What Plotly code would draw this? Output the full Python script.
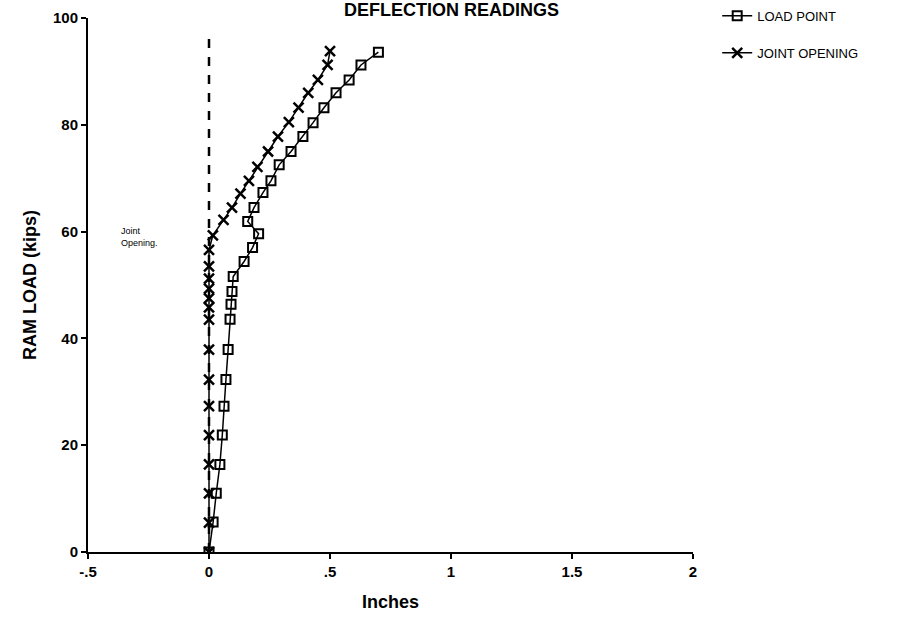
import plotly.graph_objects as go

# Deflection readings: ram load (kips) against displacement (inches)
load_point_in = [0, 0.017, 0.03, 0.045, 0.055, 0.062, 0.07, 0.079, 0.087, 0.091,
                 0.095, 0.10, 0.145, 0.18, 0.205, 0.16, 0.186, 0.223, 0.256, 0.29,
                 0.339, 0.388, 0.43, 0.475, 0.525, 0.579, 0.628, 0.70]
load_point_kips = [0, 5.6, 11, 16.4, 21.9, 27.3, 32.3, 37.9, 43.6, 46.4,
                   48.8, 51.6, 54.4, 57, 59.6, 61.9, 64.5, 67.3, 69.5, 72.5,
                   75, 77.8, 80.4, 83.2, 86, 88.4, 91.2, 93.6]

joint_in = [0, 0, 0, 0, 0, 0, 0, 0, 0, 0,
            0, 0, 0, 0, 0, 0.016, 0.06, 0.095, 0.13, 0.165,
            0.2, 0.244, 0.285, 0.33, 0.37, 0.41, 0.45, 0.49, 0.50]
joint_kips = [0, 5.5, 11, 16.4, 21.9, 27.3, 32.3, 37.9, 43.5, 45.8,
              47.5, 49.3, 51.2, 53.5, 56.6, 59.3, 62.2, 64.5, 67.1, 69.5,
              72.1, 75, 77.8, 80.5, 83.2, 86, 88.4, 91.2, 93.8]

# reference line marking zero joint opening
ref_in = [0, 0]
ref_kips = [0, 97.5]

x_ticks = [-0.5, 0, 0.5, 1, 1.5, 2]
x_tick_text = ["-.5", "0", ".5", "1", "1.5", "2"]
y_ticks = [0, 20, 40, 60, 80, 100]
y_tick_text = ["0", "20", "40", "60", "80", "100"]

FONT = "Liberation Sans, Arial, sans-serif"

fig = go.Figure()

fig.add_trace(go.Scatter(
    x=ref_in, y=ref_kips, mode="lines",
    line=dict(color="black", width=2.5, dash="dash"),
    showlegend=False, hoverinfo="skip",
))

fig.add_trace(go.Scatter(
    x=load_point_in, y=load_point_kips, mode="lines+markers",
    name="LOAD POINT", legendgroup="lp",
    line=dict(color="black", width=1.5),
    marker=dict(symbol="square-open", size=9, color="black",
                line=dict(color="black", width=2)),
))

fig.add_trace(go.Scatter(
    x=joint_in, y=joint_kips, mode="lines+markers",
    name="JOINT OPENING", legendgroup="jo",
    line=dict(color="black", width=1.5),
    marker=dict(symbol="x-thin-open", size=10, color="black",
                line=dict(color="black", width=2.5)),
))

fig.add_annotation(
    x=-0.37, y=59, xref="x", yref="y", text="Joint<br>Opening.",
    showarrow=False, xanchor="left", yanchor="middle", align="left",
    font=dict(family=FONT, size=9, color="black"),
)

# chart title, tucked against the top edge of the page
fig.add_annotation(
    x=0.6, y=1.0, xref="paper", yref="paper", yshift=-4,
    text="<b>DEFLECTION READINGS</b>", showarrow=False,
    xanchor="center", yanchor="bottom",
    font=dict(family=FONT, size=18, color="black"),
)

fig.update_layout(
    width=900, height=627,
    margin=dict(l=88, r=207, t=18, b=75, autoexpand=False),
    paper_bgcolor="white", plot_bgcolor="white",
    font=dict(family=FONT, color="black"),
    legend=dict(
        x=1.04, y=1.032, xanchor="left", yanchor="top",
        traceorder="grouped", tracegroupgap=17,
        font=dict(family=FONT, size=13, color="black"),
        bgcolor="rgba(0,0,0,0)",
    ),
    xaxis=dict(
        range=[-0.5, 2], tickvals=x_ticks,
        ticktext=[f"<b>{t}</b>" for t in x_tick_text],
        showgrid=False, zeroline=False, showline=True,
        linecolor="black", linewidth=2, ticks="outside", ticklen=5,
        tickwidth=2, tickcolor="black",
        tickfont=dict(family=FONT, size=15, color="black"),
        title=dict(text="<b>Inches</b>", font=dict(family=FONT, size=18), standoff=16),
    ),
    yaxis=dict(
        range=[0, 100], tickvals=y_ticks,
        ticktext=[f"<b>{t}</b>" for t in y_tick_text],
        showgrid=False, zeroline=False, showline=True,
        linecolor="black", linewidth=2, ticks="outside", ticklen=5,
        tickwidth=2, tickcolor="black",
        tickfont=dict(family=FONT, size=15, color="black"),
        title=dict(text="<b>RAM LOAD (kips)</b>", font=dict(family=FONT, size=18), standoff=12),
    ),
)

fig.write_html("out.html")
